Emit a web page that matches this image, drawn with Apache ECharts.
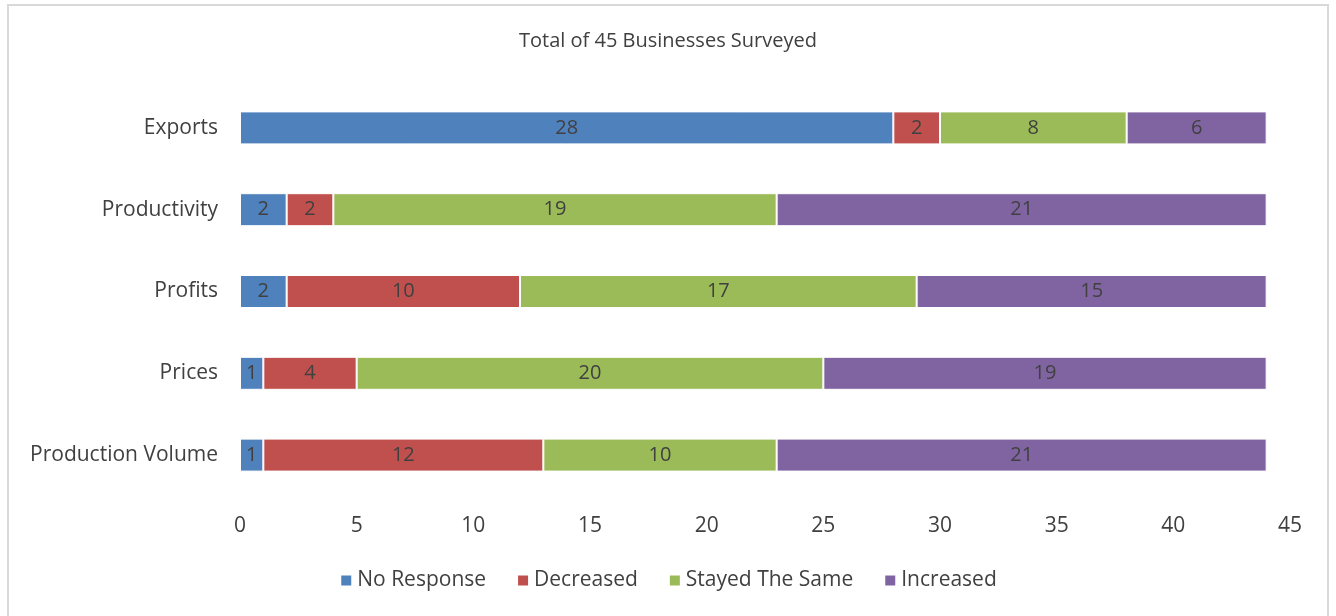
<!DOCTYPE html>
<html><head><meta charset="utf-8">
<script src="https://cdn.jsdelivr.net/npm/echarts@6/dist/echarts.min.js"></script>
<style>
html,body{margin:0;padding:0;background:#fff;}
#frame{position:absolute;left:7px;top:4px;width:1322px;height:640px;border:2px solid #d9d9d9;box-sizing:border-box;}
#c{position:absolute;left:0;top:0;width:1336px;height:616px;}
</style></head>
<body>
<div id="frame"></div>
<div id="c"></div>
<script>
const categories = ['Production Volume','Prices','Profits','Productivity','Exports'];
const noResponse = [1,1,2,2,28];
const decreased = [12,4,10,2,2];
const stayedSame = [10,20,17,19,8];
const increased = [21,19,15,21,6];
const seriesNames = ['No Response','Decreased','Stayed The Same','Increased'];
const colors = ['#4F81BD','#C0504D','#9BBB59','#8064A2'];
const FONT = 'Open Sans';
const FS = 21;
const chart = echarts.init(document.getElementById('c'));
const mk = (name, data, i) => ({
  name, type:'bar', stack:'t', data, barWidth:33,
  itemStyle:{color:colors[i], borderColor:'#fff', borderWidth:1},
  label:{show:true, position:'inside', color:'#404040', fontFamily:FONT, fontSize:20},
  emphasis:{disabled:true}
});
chart.setOption({
  animation:false,
  title:{text:'Total of 45 Businesses Surveyed', left:'center', top:26,
    textStyle:{fontFamily:FONT, fontWeight:'normal', fontSize:20, color:'#404040'}},
  grid:{left:240, right:46, top:87, bottom:120},
  legend:{bottom:20, left:'center', itemWidth:12, itemHeight:12, itemGap:30, icon:'rect',
    textStyle:{fontFamily:FONT, fontSize:FS, color:'#404040'}, data:seriesNames},
  xAxis:{type:'value', min:0, max:45, interval:5,
    axisLine:{show:false}, axisTick:{show:false}, splitLine:{show:false},
    axisLabel:{fontFamily:FONT, fontSize:FS, color:'#404040', margin:20}},
  yAxis:{type:'category', data:categories,
    axisLine:{show:false}, axisTick:{show:false},
    axisLabel:{fontFamily:FONT, fontSize:FS, color:'#404040', margin:22}},
  series:[mk(seriesNames[0],noResponse,0),mk(seriesNames[1],decreased,1),mk(seriesNames[2],stayedSame,2),mk(seriesNames[3],increased,3)]
});
</script>
</body></html>
